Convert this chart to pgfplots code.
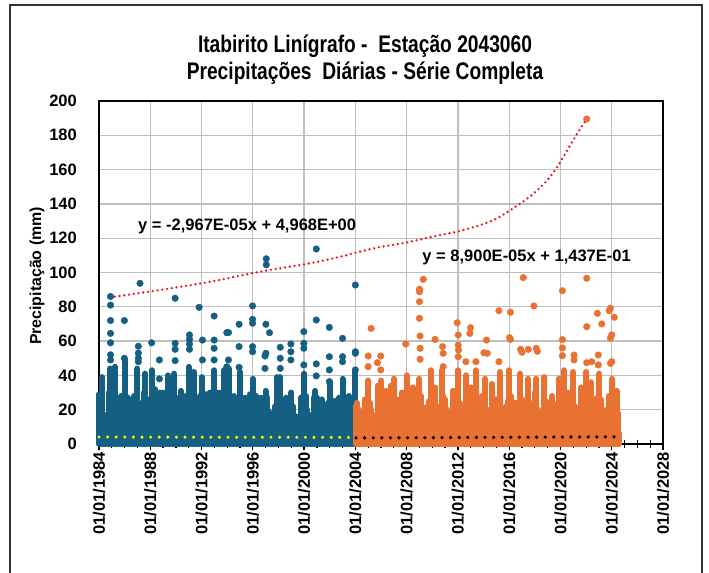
\documentclass[border=0pt]{standalone}
\usepackage{pgfplots}
\usepackage{pgfplotstable}
\pgfplotsset{compat=1.18}
\usepackage{fontspec}
\setmainfont{Liberation Sans}
\newfontfamily\titlefont[FakeStretch=0.8]{Liberation Sans}

\definecolor{serieA}{HTML}{156082}
\definecolor{serieB}{HTML}{E97132}
\definecolor{gridgray}{HTML}{BFBFBF}
\definecolor{trendred}{HTML}{F0141E}

% daily rainfall 1984-2003: highest value of the dense part, eight slots per year
\pgfplotstableread{
x y
1984.000 29
1984.125 22
1984.250 39
1984.375 17
1984.500 13
1984.625 16
1984.750 30
1984.875 44
1985.000 26
1985.125 26
1985.250 45
1985.375 20
1985.500 14
1985.625 18
1985.750 28
1985.875 24
1986.000 49
1986.125 25
1986.250 27
1986.375 18
1986.500 12
1986.625 15
1986.750 28
1986.875 22
1987.000 44
1987.125 24
1987.250 20
1987.375 16
1987.500 30
1987.625 41
1987.750 19
1987.875 26
1988.000 25
1988.125 43
1988.250 18
1988.375 32
1988.500 14
1988.625 17
1988.750 30
1988.875 21
1989.000 30
1989.125 22
1989.250 19
1989.375 40
1989.500 15
1989.625 27
1989.750 20
1989.875 41
1990.000 27
1990.125 21
1990.250 18
1990.375 31
1990.500 13
1990.625 16
1990.750 28
1990.875 23
1991.000 45
1991.125 26
1991.250 19
1991.375 42
1991.500 15
1991.625 14
1991.750 22
1991.875 28
1992.000 39
1992.125 24
1992.250 17
1992.375 29
1992.500 14
1992.625 30
1992.750 18
1992.875 25
1993.000 43
1993.125 23
1993.250 18
1993.375 30
1993.500 13
1993.625 16
1993.750 43
1993.875 27
1994.000 45
1994.125 44
1994.250 20
1994.375 16
1994.500 28
1994.625 15
1994.750 21
1994.875 26
1995.000 42
1995.125 25
1995.250 19
1995.375 27
1995.500 14
1995.625 16
1995.750 29
1995.875 24
1996.000 38
1996.125 22
1996.250 28
1996.375 17
1996.500 13
1996.625 27
1996.750 20
1996.875 25
1997.000 31
1997.125 27
1997.250 19
1997.375 15
1997.500 14
1997.625 18
1997.750 22
1997.875 39
1998.000 26
1998.125 39
1998.250 18
1998.375 16
1998.500 13
1998.625 27
1998.750 19
1998.875 24
1999.000 30
1999.125 22
1999.250 17
1999.375 15
1999.500 12
1999.625 16
1999.750 27
1999.875 23
2000.000 41
2000.125 28
2000.250 20
2000.375 16
2000.500 14
2000.625 17
2000.750 27
2000.875 31
2001.000 27
2001.125 21
2001.250 18
2001.375 26
2001.500 13
2001.625 15
2001.750 20
2001.875 24
2002.000 36
2002.125 26
2002.250 17
2002.375 25
2002.500 14
2002.625 16
2002.750 27
2002.875 22
2003.000 38
2003.125 24
2003.250 27
2003.375 18
2003.500 28
2003.625 14
2003.750 19
2003.875 25
2004.000 42
}\stemsA

% daily rainfall 1984-2003: the higher days
\pgfplotstableread{
x y
1984.90 86
1984.90 81
1984.90 72
1984.90 64.5
1984.90 59
1984.90 52
1984.90 49
1985.98 72
1985.98 50
1987.07 57
1987.07 53
1987.07 50
1987.07 48
1987.20 93.7
1988.11 59
1988.71 49
1988.71 38
1989.94 85
1989.94 58.7
1989.94 55.2
1989.94 48.6
1991.06 63.6
1991.06 61
1991.06 58.3
1991.06 55.2
1991.81 79.7
1992.07 60.6
1992.07 49
1992.98 74.6
1992.98 60.6
1992.98 55.8
1992.98 49
1993.97 64.9
1993.97 45
1994.10 65
1994.10 49
1994.93 69.8
1994.93 56.8
1994.93 44.7
1995.98 80.5
1995.98 72.7
1995.98 70.4
1995.98 56.8
1995.98 53.8
1997.05 108
1997.05 104.5
1997.02 69.8
1997.30 64.9
1997.02 52.9
1996.95 51.3
1996.95 44.1
1998.14 56.4
1998.14 50
1998.14 44.1
1998.97 58.3
1998.97 53.8
1998.97 49
1999.98 65.5
1999.98 58.7
1999.98 55.8
1999.98 46.1
2000.95 113.7
2000.95 72.3
2000.95 46.7
2000.95 39.7
2001.97 68
2001.97 50.9
2001.97 43.2
2001.97 36.4
2003.00 61.6
2003.00 50.9
2003.00 48
2004.00 92.7
2004.00 53.8
2004.00 52.9
2004.00 43.2
}\dotsA

% daily rainfall 2004-2024: highest value of the dense part, eight slots per year
\pgfplotstableread{
x y
2004.050 22
2004.125 24
2004.250 20
2004.375 16
2004.500 14
2004.625 18
2004.750 26
2004.875 25
2005.000 37
2005.125 24
2005.250 20
2005.375 15
2005.500 13
2005.625 17
2005.750 34
2005.875 23
2006.000 37
2006.125 25
2006.250 21
2006.375 31
2006.500 14
2006.625 16
2006.750 34
2006.875 22
2007.000 38
2007.125 22
2007.250 26
2007.375 15
2007.500 13
2007.625 30
2007.750 20
2007.875 24
2008.000 40
2008.125 24
2008.250 19
2008.375 16
2008.500 33
2008.625 15
2008.750 18
2008.875 24
2009.000 38
2009.125 28
2009.250 21
2009.375 18
2009.500 14
2009.625 22
2009.750 25
2009.875 43
2010.000 28
2010.125 23
2010.250 33
2010.375 16
2010.500 14
2010.625 22
2010.750 43
2010.875 28
2011.000 26
2011.125 20
2011.250 18
2011.375 15
2011.500 14
2011.625 31
2011.750 20
2011.875 24
2012.000 43
2012.125 24
2012.250 20
2012.375 16
2012.500 15
2012.625 40
2012.750 22
2012.875 27
2013.000 33
2013.125 22
2013.250 19
2013.375 43
2013.500 14
2013.625 18
2013.750 20
2013.875 28
2014.000 26
2014.125 38
2014.250 20
2014.375 18
2014.500 15
2014.625 35
2014.750 20
2014.875 24
2015.000 26
2015.125 22
2015.250 42
2015.375 17
2015.500 14
2015.625 16
2015.750 22
2015.875 25
2016.000 43
2016.125 28
2016.250 21
2016.375 18
2016.500 24
2016.625 15
2016.750 18
2016.875 41
2017.000 26
2017.125 23
2017.250 18
2017.375 16
2017.500 38
2017.625 15
2017.750 20
2017.875 24
2018.000 30
2018.125 38
2018.250 20
2018.375 16
2018.500 14
2018.625 18
2018.750 39
2018.875 25
2019.000 24
2019.125 22
2019.250 16
2019.375 28
2019.500 14
2019.625 16
2019.750 23
2019.875 38
2020.000 26
2020.125 24
2020.250 43
2020.375 18
2020.500 15
2020.625 30
2020.750 21
2020.875 24
2021.000 42
2021.125 22
2021.250 20
2021.375 15
2021.500 14
2021.625 33
2021.750 19
2021.875 24
2022.000 42
2022.125 28
2022.250 19
2022.375 36
2022.500 14
2022.625 18
2022.750 24
2022.875 27
2023.000 41
2023.125 26
2023.250 20
2023.375 18
2023.500 15
2023.625 20
2023.750 28
2023.875 26
2024.000 38
2024.125 26
2024.250 20
2024.375 31
2024.500 18
2024.600 6
}\stemsB

% daily rainfall 2004-2024: the higher days
\pgfplotstableread{
x y
2005.00 51.3
2005.00 45.1
2005.23 67.4
2005.72 47.4
2005.98 51.3
2005.98 43.2
2007.93 58.3
2009.00 90.2
2009.00 88.8
2009.00 83
2009.00 73.3
2009.05 63
2009.05 55.8
2009.05 49.4
2009.30 96
2010.22 61
2010.80 56.8
2010.85 52.9
2010.85 45.1
2011.94 70.7
2012.02 63.6
2012.02 57.7
2012.05 54.8
2012.02 50.9
2012.62 48
2012.98 67.8
2012.93 64.5
2013.40 48
2014.03 53.2
2014.23 60.6
2014.29 52.9
2015.20 77.7
2015.20 48
2016.03 62
2016.10 61
2016.10 76.8
2016.89 55.2
2017.00 53.5
2017.10 97
2017.49 55.2
2017.93 80.5
2018.11 55.8
2018.20 54
2020.15 89.4
2020.15 60.9
2020.15 56
2020.15 51.5
2021.06 51.9
2021.06 49
2022.05 189.5
2022.05 96.6
2022.05 68.4
2022.05 47.4
2022.44 48
2022.88 76.2
2023.22 70
2022.95 51.9
2022.95 46.1
2023.90 79.1
2023.90 61.7
2023.90 47
2023.80 77.7
2024.20 73.9
2024.00 63.6
2024.00 48
}\dotsB

\begin{document}
\begin{tikzpicture}[x=1bp,y=1bp]
\useasboundingbox (-99,-129) rectangle (610,444);
\fill[white] (-99,-129) rectangle (610,444);
\draw[line width=1.2bp, black!80] (-89,-129) -- (-89,439) -- (603,439) -- (603,-129);

\begin{axis}[
  at={(0,0)}, anchor=south west, scale only axis,
  width=564bp, height=343bp,
  xmin=1984, xmax=2028, ymin=0, ymax=200,
  clip=false,
  xtick={1984,1988,1992,1996,2000,2004,2008,2012,2016,2020,2024,2028},
  xticklabels={01/01/1984,01/01/1988,01/01/1992,01/01/1996,01/01/2000,01/01/2004,01/01/2008,01/01/2012,01/01/2016,01/01/2020,01/01/2024,01/01/2028},
  minor xtick={1985,1986,1987,1989,1990,1991,1993,1994,1995,1997,1998,1999,2001,2002,2003,2005,2006,2007,2009,2010,2011,2013,2014,2015,2017,2018,2019,2021,2022,2023,2025,2026,2027},
  xtick pos=bottom,
  ytick={0,20,...,200},
  grid=major,
  major grid style={gridgray, line width=1.3bp},
  axis line style={black, line width=1.3bp},
  tick align=center,
  major x tick style={black, line width=1.2bp},
  minor x tick style={black, line width=1.2bp},
  major tick length=12bp, minor tick length=8bp,
  major y tick style={draw=none},
  /pgf/number format/assume math mode=true,
  tick label style={font=\fontsize{16.5bp}{18bp}\selectfont\bfseries},
  xticklabel style={rotate=90, anchor=east, inner xsep=2bp, inner ysep=0pt},
  yticklabel style={anchor=east, inner xsep=16bp, inner ysep=0pt},
]
\addplot[ycomb, serieA, line width=6bp, line cap=round, mark=none] table {\stemsA};
\addplot[only marks, mark=*, mark size=3.3bp, serieA, mark options={draw=serieA, fill=serieA}] table {\dotsA};
\addplot[ycomb, serieB, line width=6bp, line cap=round, mark=none] table {\stemsB};
\addplot[only marks, mark=*, mark size=3.3bp, serieB, mark options={draw=serieB, fill=serieB}] table {\dotsB};

% linear trend lines of the two periods
\addplot[yellow, line width=3.4bp, line cap=round, dash pattern=on 0bp off 8.6bp] coordinates {(1984.0,4.06) (2004.0,3.84)};
\addplot[black, line width=3.6bp, line cap=round, dash pattern=on 0bp off 8.6bp] coordinates {(2004.05,3.53) (2024.55,4.19)};

% curve through the highest daily values
\addplot[trendred, smooth, line width=2.6bp, line cap=round, dash pattern=on 0bp off 4.8bp] coordinates {
  (1984.86,85.5) (1988.77,89.8) (1992.67,94.6) (1996.58,100.5) (2000.48,105.4)
  (2002.83,109.2) (2005.43,114.1) (2008.04,117.6) (2010.64,121.9) (2011.94,123.8)
  (2013.77,127.7) (2015.07,131.6) (2015.85,135.2) (2016.89,140.3) (2017.93,146.2)
  (2018.98,153.9) (2019.76,161.7) (2020.54,171.4) (2021.32,181.2) (2022.05,189.5)};

\node[font=\fontsize{16.5bp}{18bp}\selectfont\bfseries] at (axis cs:1995.56,127) {y = -2,967E-05x + 4,968E+00};
\node[font=\fontsize{16.5bp}{18bp}\selectfont\bfseries] at (axis cs:2017.36,109) {y = 8,900E-05x + 1,437E-01};
\end{axis}

\node[align=center, font=\titlefont\bfseries\fontsize{24bp}{27bp}\selectfont] at (266,384)
  {Itabirito Linígrafo -~ Estação 2043060\\Precipitações~ Diárias - Série Completa};
\node[rotate=90, font=\fontsize{15.9bp}{18bp}\selectfont\bfseries] at (-62,168) {Precipitação (mm)};
\end{tikzpicture}
\end{document}
